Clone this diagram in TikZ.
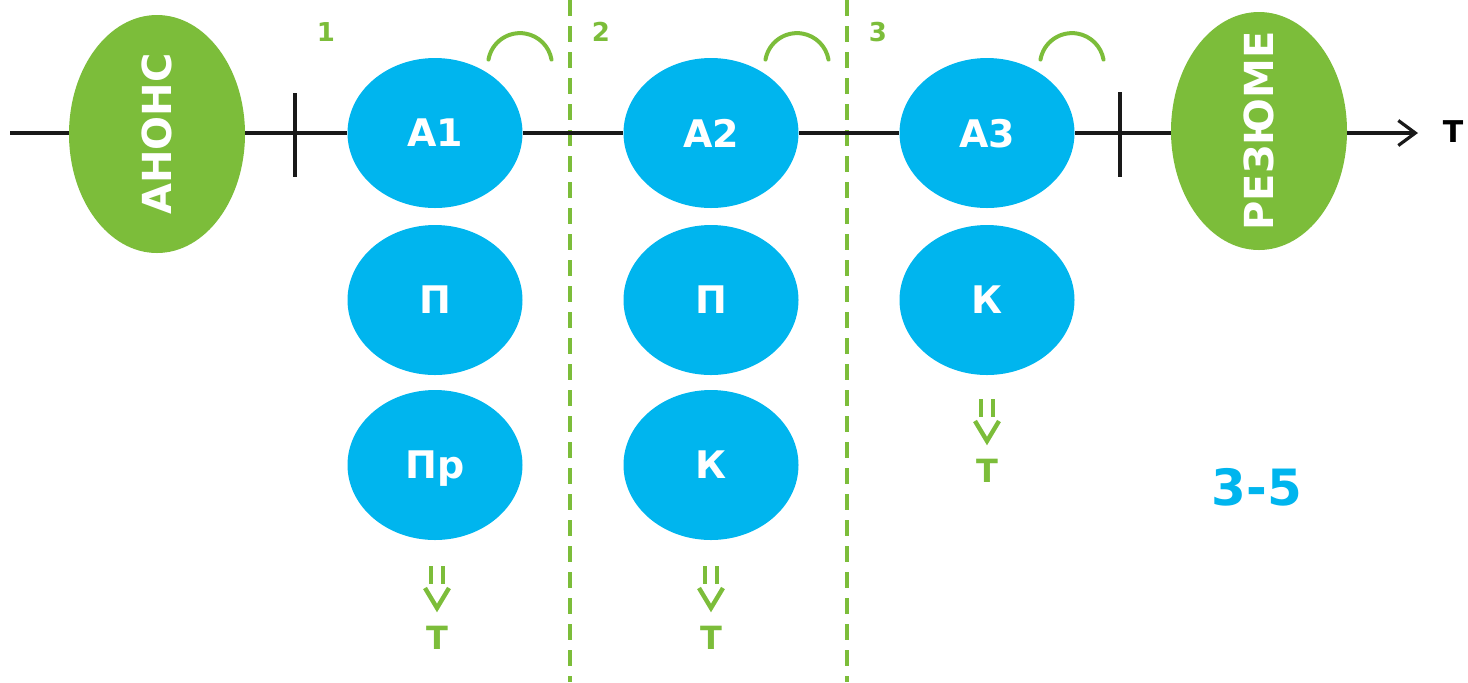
\documentclass[tikz,border=0pt]{standalone}
\usepackage{fontspec}
\setmainfont{DejaVu Sans}
\usetikzlibrary{shapes.geometric,arrows.meta}
\definecolor{grn}{HTML}{7CBD3A}
\definecolor{cyn}{HTML}{00B5EE}
\tikzset{
  bub/.style={ellipse,fill=cyn,inner sep=0pt,minimum width=87.5pt,minimum height=75pt,text=white,text depth=0pt,font=\fontsize{19}{21}\selectfont\bfseries},
  oval/.style={ellipse,fill=grn,inner sep=0pt,rotate=90,minimum width=119pt,minimum height=88pt,text=white,font=\fontsize{20}{22}\selectfont\bfseries},
  axis/.style={line width=1.6pt,draw=black!90},
  sep/.style={draw=grn,line width=2pt,dash pattern=on 8pt off 5pt},
  num/.style={text=grn,font=\fontsize{13}{15}\selectfont\bfseries},
  grnT/.style={text=grn,font=\fontsize{16}{18}\selectfont\bfseries},
  implmark/.style={draw=grn,line width=2.2pt},
  arcmark/.style={draw=grn,line width=2pt,line cap=round}
}
\begin{document}
\begin{tikzpicture}[x=0.5pt,y=-0.5pt]
\useasboundingbox (0,0) rectangle (1468,682);
% separators
\draw[sep] (570,0) -- (570,682);
\draw[sep] (847,0) -- (847,682);
% nodes
\node[oval] (anons) at (157,134) {\makebox[0pt]{АНОНС}};
\node[oval] (rez) at (1259,131) {\makebox[0pt]{РЕЗЮМЕ}};
\node[bub] (a1) at (435,133) {А1};
\node[bub] (p1) at (435,300) {П};
\node[bub] (pr1) at (435,465) {Пр};
\node[bub] (a2) at (711,133) {А2};
\node[bub] (p2) at (711,300) {П};
\node[bub] (k2) at (711,465) {К};
\node[bub] (a3) at (987,133) {А3};
\node[bub] (k3) at (987,300) {К};
% axis
\coordinate (start) at (10,133);
\coordinate (end) at (1418,133);
\coordinate (t1a) at (295,93);
\coordinate (t1b) at (295,177);
\coordinate (t2a) at (1120,92);
\coordinate (t2b) at (1120,177);
\node[font=\fontsize{15}{17}\selectfont\bfseries,text=black] (T) at (1453,132) {Т};
\draw[axis] (start) -- (anons.north |- start);
\draw[axis] (anons.south |- start) -- (a1.west);
\draw[axis] (a1.east) -- (a2.west);
\draw[axis] (a2.east) -- (a3.west);
\draw[axis] (a3.east) -- (rez.north |- a3.east);
\draw[axis,-{Straight Barb[length=8.5pt,width=12.5pt,line width=1.6pt]}] (rez.south |- end) -- (end);
\draw[axis] (t1a) -- (t1b);
\draw[axis] (t2a) -- (t2b);
% numbers
\node[num] (n1) at (326,32) {1};
\node[num] (n2) at (601,32) {2};
\node[num] (n3) at (878,32) {3};
% arcs
\draw[arcmark] (520,54) ++(170:32) arc[start angle=170,end angle=10,radius=16pt];
\draw[arcmark] (797,54) ++(170:32) arc[start angle=170,end angle=10,radius=16pt];
\draw[arcmark] (1072,54) ++(170:32) arc[start angle=170,end angle=10,radius=16pt];
% implies marks
\foreach \cx/\cy [count=\i] in {437/566, 711/566, 987/399}{
  \draw[implmark] (\cx-6,\cy) -- (\cx-6,\cy+18);
  \draw[implmark] (\cx+6,\cy) -- (\cx+6,\cy+18);
  \draw[implmark] (\cx-12,\cy+22) -- (\cx,\cy+42) -- (\cx+12,\cy+22);
  \node[grnT] (tm\i) at (\cx,\cy+72) {Т};
}
\node[text=cyn,font=\fontsize{25}{27}\selectfont\bfseries] (range) at (1257,487) {3-5};
\end{tikzpicture}
\end{document}
